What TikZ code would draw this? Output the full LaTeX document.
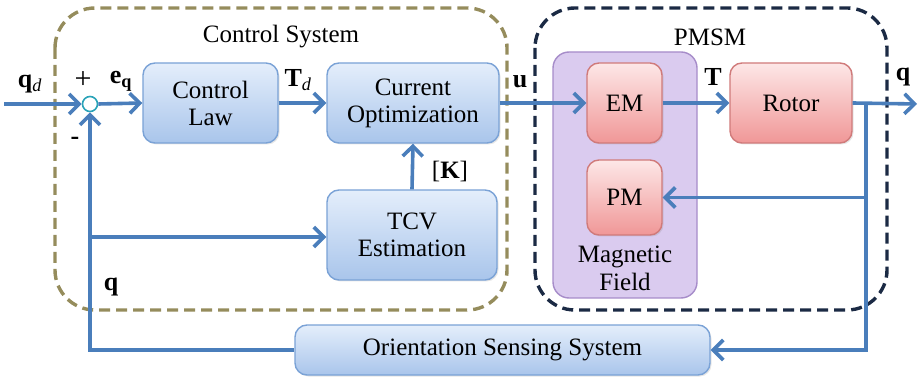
\documentclass[tikz,border=0pt]{standalone}
\usepackage{fontspec}
\setmainfont{Liberation Serif}
\usetikzlibrary{arrows.meta,shadows,calc}
\definecolor{flow}{HTML}{4A7EBB}
\definecolor{bluetop}{HTML}{E4EEFB}
\definecolor{bluebot}{HTML}{A9C5EB}
\definecolor{blueedge}{HTML}{7AA2D6}
\definecolor{redtop}{HTML}{FDE7E7}
\definecolor{redbot}{HTML}{F09797}
\definecolor{rededge}{HTML}{D07A7A}
\definecolor{purfill}{HTML}{DACBEF}
\definecolor{puredge}{HTML}{A68CC9}
\definecolor{olive}{HTML}{958C5C}
\definecolor{navy}{HTML}{1B2A44}
\definecolor{sumedge}{HTML}{2AA3B8}
\tikzset{
  txt/.style={font=\fontsize{25}{27}\selectfont, align=center, inner sep=0pt},
  sig/.style={font=\fontsize{26}{28}\selectfont\bfseries, inner sep=0pt},
  block/.style={txt, rounded corners=12pt, line width=1.4pt,
    drop shadow={opacity=0.2, shadow xshift=1.5pt, shadow yshift=-1.5pt}},
  blueblock/.style={block, draw=blueedge, top color=bluetop, bottom color=bluebot},
  redblock/.style={block, draw=rededge, top color=redtop, bottom color=redbot},
  frame/.style={line width=3.4pt, dash pattern=on 11pt off 6pt, rounded corners=40pt},
  flowline/.style={draw=flow, line width=3.6pt},
  arr/.style={flowline, -{Straight Barb[length=10pt,width=20pt]}},
}
\begin{document}
\begin{tikzpicture}[x=1pt,y=-1pt]
\useasboundingbox (0,0) rectangle (918,379);

% enclosing subsystem frames
\draw[frame, draw=olive] (55,8) rectangle (507,310);
\draw[frame, draw=navy] (535,8) rectangle (887,310);
\node[txt] (csys) at (281,37) {Control System};
\node[txt] (pmsm) at (710,37) {PMSM};

% magnetic field group
\node[txt, draw=puredge, fill=purfill, line width=1.4pt, rounded corners=16pt,
      minimum width=144pt, minimum height=246pt] (mag) at (625,175) {};
\node[txt] (magtxt) at (625,268) {Magnetic\\[1pt]Field};

% blocks
\node[blueblock, minimum width=135pt, minimum height=80pt] (ctrl) at (210.5,103) {Control\\Law};
\node[blueblock, minimum width=172pt, minimum height=80pt] (cur) at (413,103) {Current\\Optimization};
\node[blueblock, minimum width=170pt, minimum height=90pt] (tcv) at (412,235) {TCV\\Estimation};
\node[redblock, minimum width=75pt, minimum height=80pt] (em) at (624.5,103) {EM};
\node[redblock, minimum width=75pt, minimum height=75pt] (pm) at (624.5,197.5) {PM};
\node[redblock, minimum width=122pt, minimum height=80pt] (rotor) at (791,103) {Rotor};
\node[blueblock, minimum width=415pt, minimum height=50pt] (orient) at (502.5,350) {Orientation Sensing System};

% summing junction
\node[circle, draw=sumedge, fill=white, line width=1.6pt, minimum size=15pt, inner sep=0pt] (sum) at (90,104) {};

% free ends and branch points
\coordinate (qin) at (4,104);
\coordinate (qout) at (917,104);
\coordinate (br) at (866,104);
\coordinate (fb) at (90,237);

% connectors
\draw[arr] (qin) -- (sum.west);
\draw[arr] (sum.east) -- (ctrl.west);
\draw[arr] (ctrl.east) -- (cur.west);
\draw[arr] (cur.east) -- (em.west);
\draw[arr] (em.east) -- (rotor.west);
\draw[arr] (rotor.east) -- (qout);
\draw[arr] (br) |- (pm.east);
\draw[arr] (br) |- (orient.east);
\draw[arr] (orient.west) -| (sum.south);
\draw[arr] (fb) -- (fb -| tcv.west);
\draw[arr] (tcv.north) -- (cur.south);

% signal labels
\node[sig] (lqd) at (30,84) {q\textsubscript{\normalfont\itshape d}};
\node[txt, font=\fontsize{30}{30}\selectfont] (lplus) at (83,80) {+};
\node[sig] (lminus) at (75,141) {-};
\node[sig] (leq) at (121,81) {e\textsubscript{q}};
\node[sig] (ltd) at (298,80) {T\textsubscript{\normalfont\itshape d}};
\node[txt] (lk) at (450,172) {[\textbf{K}]};
\node[sig] (lu) at (520,82) {u};
\node[sig] (lt) at (713,77) {T};
\node[sig] (lq) at (903,77) {q};
\node[sig] (lqf) at (111,287) {q};
\end{tikzpicture}
\end{document}
